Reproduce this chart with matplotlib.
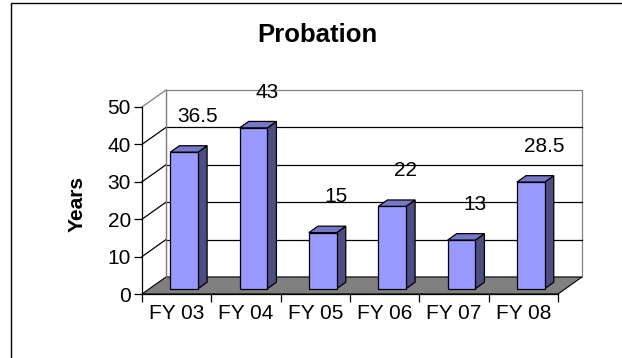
import numpy as np
import matplotlib.pyplot as plt
from matplotlib.patches import Polygon, Rectangle

# chart data
years = ["FY 03", "FY 04", "FY 05", "FY 06", "FY 07", "FY 08"]
probation = [36.5, 43, 15, 22, 13, 28.5]
yticks = [0, 10, 20, 30, 40, 50]

# 3d look: depth of the floor in data units, bar placement inside that depth
depth_x = 0.346
depth_y = 4.55
bar_front = 0.31
bar_back = 0.69
bar_half = 0.2

front_col = "#9999ff"
top_col = "#7878c8"
side_col = "#4d4d82"
wall_edge = "#808080"

plt.rcParams['font.family'] = ['Liberation Sans', 'DejaVu Sans']

fig = plt.figure(figsize=(6.22, 3.58), dpi=100)
ax = fig.add_axes([142 / 622, 1 - 294 / 358, 416 / 622, 187 / 358])
ax.set_xlim(0, len(years))
ax.set_ylim(0, yticks[-1])

n = len(years)
ymax = yticks[-1]

def poly(pts, fc, ec="black", lw=0.9, z=2):
    ax.add_patch(Polygon(pts, closed=True, facecolor=fc, edgecolor=ec,
                         linewidth=lw, zorder=z, clip_on=False, joinstyle="miter"))

# back wall
poly([(depth_x, depth_y), (n + depth_x, depth_y), (n + depth_x, ymax + depth_y),
      (depth_x, ymax + depth_y)], "white", ec=wall_edge, z=0.5)
# floor
poly([(0, 0), (n, 0), (n + depth_x, depth_y), (depth_x, depth_y)], "#808080",
     ec="black", lw=0.8, z=0.6)

# gridlines on the back wall and the side wall
for v in yticks[1:]:
    c = wall_edge if v == ymax else "black"
    if v != ymax:
        ax.plot([depth_x, n + depth_x], [v + depth_y, v + depth_y], color=c,
                lw=0.9, zorder=0.7, clip_on=False)
    ax.plot([0, depth_x], [v, v + depth_y], color=c, lw=0.9, zorder=0.7, clip_on=False)
ax.plot([depth_x, depth_x], [depth_y, ymax + depth_y], color=wall_edge, lw=0.9,
        zorder=0.7, clip_on=False)

# bars as three faces each
for i, val in enumerate(probation):
    cx = i + 0.5
    fx0 = cx + bar_front * depth_x - bar_half
    fx1 = cx + bar_front * depth_x + bar_half
    fy = bar_front * depth_y
    bx = (bar_back - bar_front) * depth_x
    by = (bar_back - bar_front) * depth_y
    poly([(fx1, fy), (fx1 + bx, fy + by), (fx1 + bx, val + fy + by), (fx1, val + fy)], side_col)
    poly([(fx0, val + fy), (fx1, val + fy), (fx1 + bx, val + fy + by), (fx0 + bx, val + fy + by)], top_col)
    poly([(fx0, fy), (fx1, fy), (fx1, val + fy), (fx0, val + fy)], front_col)
    ax.text(cx + 0.5 * depth_x + 0.13, val + 11, f"{val:g}", ha="center", va="center",
            fontsize=15, zorder=3)

# axes
for s in ["top", "right"]:
    ax.spines[s].set_visible(False)
for s in ["left", "bottom"]:
    ax.spines[s].set_linewidth(0.9)
    ax.spines[s].set_zorder(1)
ax.patch.set_visible(False)
ax.set_yticks(yticks)
ax.set_xticks(np.arange(n + 1))
ax.set_xticklabels([])
ax.set_xticks(np.arange(n) + 0.5, minor=True)
ax.set_xticklabels(years, minor=True)
ax.tick_params(axis="x", which="major", direction="out", length=5.5, width=0.9)
ax.tick_params(axis="x", which="minor", length=0, pad=7, labelsize=15)
ax.tick_params(axis="y", direction="out", length=5.5, width=0.9, pad=2.5, labelsize=15)

ax.set_ylabel("Years", fontsize=15, fontweight="bold")
ax.yaxis.set_label_coords(-0.132, 0.48)

fig.text(317 / 622, 1 - 35 / 358, "Probation", ha="center", va="center",
         fontsize=18.5, fontweight="bold")

# chart border
fig.patches.append(Rectangle((11 / 622, -0.2), 1.2, 0.2 + 1 - 3 / 358, transform=fig.transFigure,
                             fill=False, edgecolor="black", linewidth=1.0))

fig.savefig("out.png", dpi=100)
